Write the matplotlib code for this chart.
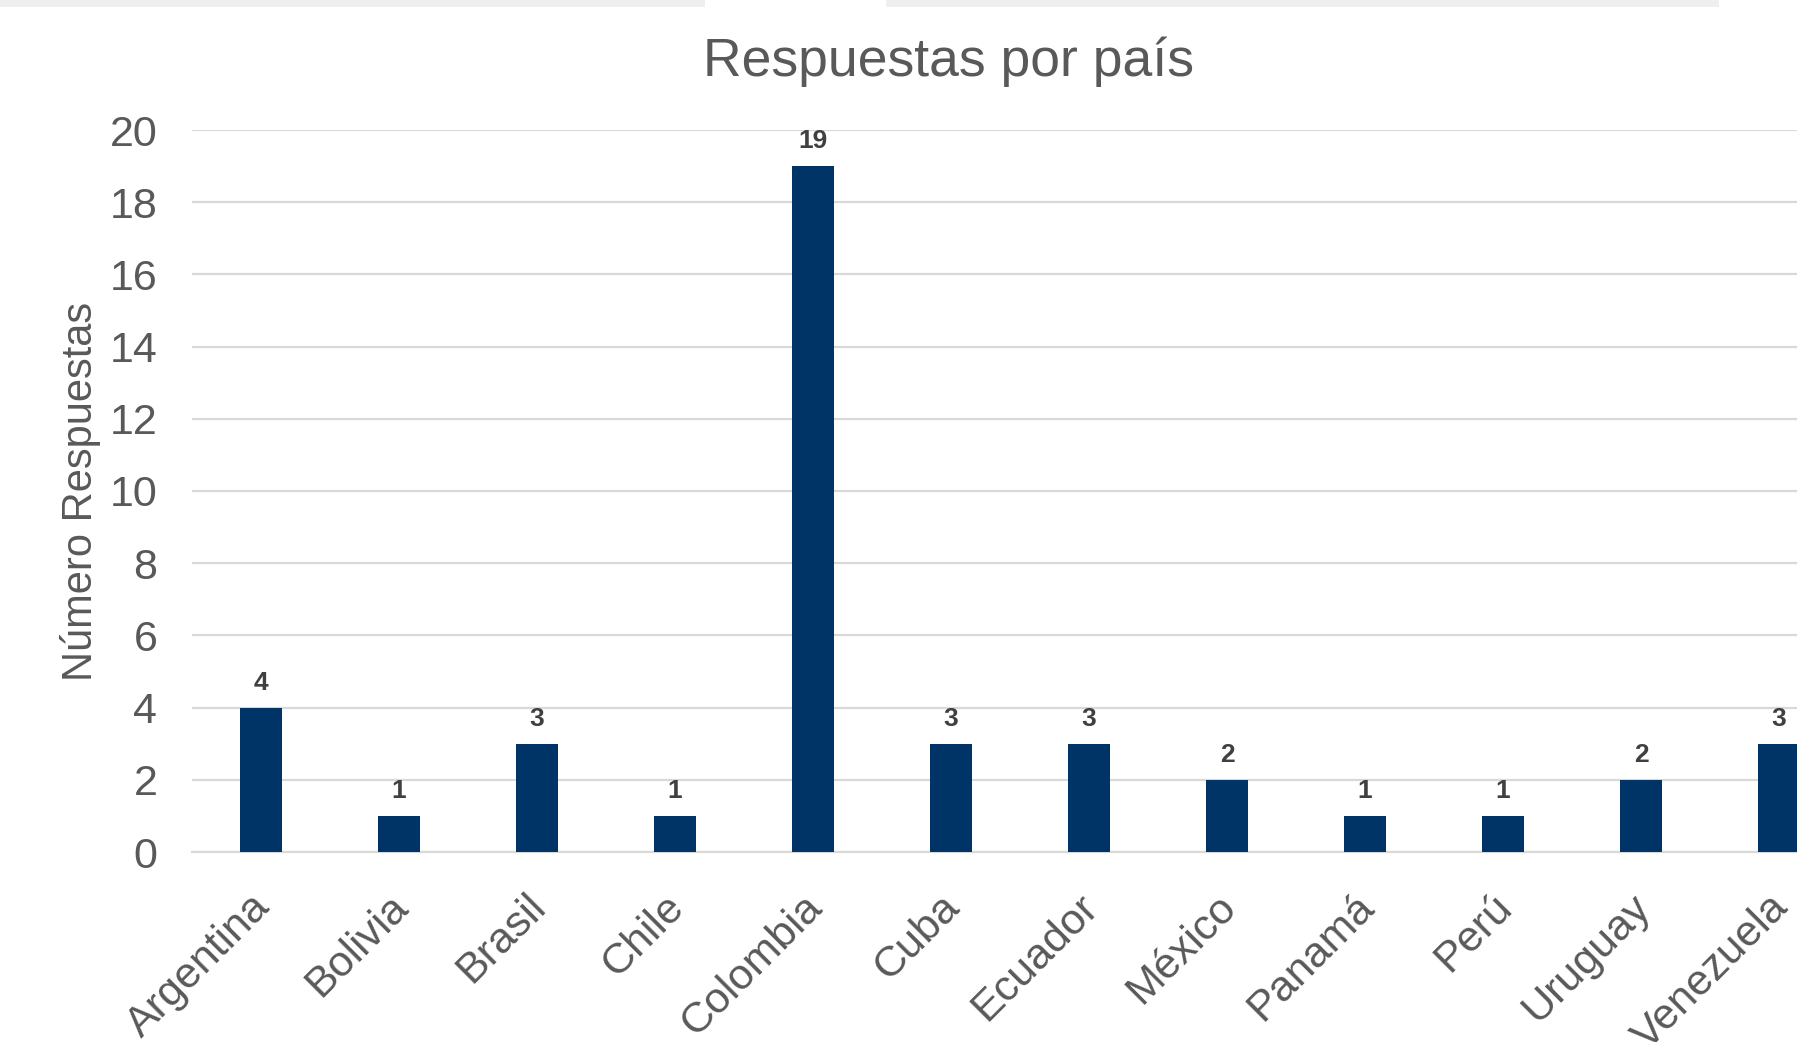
import matplotlib
matplotlib.use("Agg")
import matplotlib.pyplot as plt
from matplotlib.patches import Rectangle
from matplotlib.transforms import ScaledTranslation

plt.rcParams['font.family'] = ['Liberation Sans', 'DejaVu Sans']

paises = ["Argentina", "Bolivia", "Brasil", "Chile", "Colombia", "Cuba",
          "Ecuador", "México", "Panamá", "Perú", "Uruguay", "Venezuela"]
respuestas = [4, 1, 3, 1, 19, 3, 3, 2, 1, 1, 2, 3]
y_ticks = [0, 2, 4, 6, 8, 10, 12, 14, 16, 18, 20]

W, H = 1797, 1042
fig = plt.figure(figsize=(W / 100, H / 100), dpi=100)
fig.patch.set_facecolor("white")

# Light strips along the top edge
for x0, x1 in [(0, 705), (886, 1719)]:
    fig.patches.append(Rectangle((x0 / W, 1 - 7 / H), (x1 - x0) / W, 7 / H,
                                 transform=fig.transFigure, facecolor="#efefef",
                                 edgecolor="none", zorder=0))

ax = fig.add_axes([192 / W, 1 - 852 / H, 1656 / W, 722 / H])
x = range(len(paises))
bars = ax.bar(x, respuestas, width=0.31, color="#003366", zorder=3)
ax.set_xlim(-0.5, len(paises) - 0.5)
ax.set_ylim(0, 20)
ax.set_yticks(y_ticks)
ax.yaxis.grid(True, color="#d9d9d9", linewidth=1.6, zorder=0)
ax.set_axisbelow(True)
for s in ["top", "right", "left"]:
    ax.spines[s].set_visible(False)
ax.spines["bottom"].set_color("#d9d9d9")
ax.spines["bottom"].set_linewidth(1.6)
ax.tick_params(axis="both", length=0, labelsize=31, labelcolor="#595959")
ax.tick_params(axis="y", pad=25)
ax.set_xticks(list(x))
ax.set_xticklabels(paises, rotation=45, ha="right", va="top",
                   rotation_mode="anchor", fontsize=31, color="#595959")
ax.tick_params(axis="x", pad=22)
shift = ScaledTranslation(-11 / 100, -4 / 100, fig.dpi_scale_trans)
for lbl in ax.get_xticklabels():
    lbl.set_transform(lbl.get_transform() + shift)

for xi, v in zip(x, respuestas):
    ax.annotate(str(v), (xi, v), xytext=(0, 18), textcoords="offset points",
                ha="center", va="center", fontsize=19, fontweight="bold",
                color="#404040")

ax.set_ylabel("Número Respuestas", fontsize=30, color="#595959")
ax.yaxis.set_label_coords(-(192 - 101) / 1656, 0.5)

fig.text(949 / W, 1 - 62 / H, "Respuestas por país", ha="center", va="center",
         fontsize=38.5, color="#595959")

fig.savefig("out.png", dpi=100)
